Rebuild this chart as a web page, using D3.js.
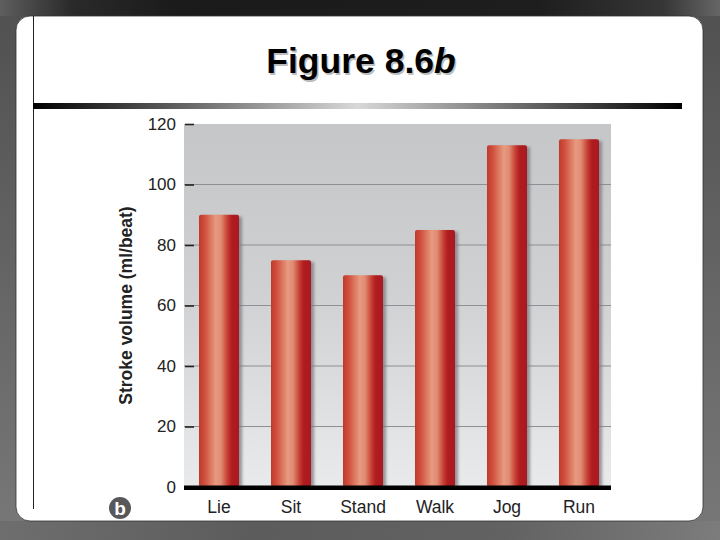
<!DOCTYPE html>
<html>
<head>
<meta charset="utf-8">
<script src="https://cdn.jsdelivr.net/npm/d3@7"></script>
<style>
  html, body { margin: 0; padding: 0; background: #fff; }
  svg { display: block; }
  text { font-family: "Liberation Sans", sans-serif; }
</style>
</head>
<body>
<svg id="chart" width="720" height="540"></svg>
<script>
//DATA
const activities = ['Lie', 'Sit', 'Stand', 'Walk', 'Jog', 'Run'];
const strokeVolume = [90, 75, 70, 85, 113, 115];
const yTicks = [0, 20, 40, 60, 80, 100, 120];

const plot = {left: 184, right: 611, top: 124, bottom: 487};

const svg = d3.select('#chart');
const defs = svg.append('defs');

function addGradient(id, x2, y2, stops) {
  const g = defs.append('linearGradient')
    .attr('id', id)
    .attr('x1', 0).attr('y1', 0)
    .attr('x2', x2).attr('y2', y2);
  stops.forEach(function(s) {
    g.append('stop').attr('offset', s[0]).attr('stop-color', s[1]);
  });
}

addGradient('frameSides', 0, 1, [[0, '#505050'], [1, '#787878']]);
addGradient('frameTop', 1, 0, [[0, '#5e5e5e'], [0.1, '#2a2a2a'], [0.25, '#1a1a1a'], [0.75, '#1e1e1e'], [0.92, '#363636'], [1, '#666']]);
addGradient('frameBottom', 1, 0, [[0, '#6e6e6e'], [0.35, '#5c5c5c'], [0.7, '#626262'], [1, '#7c7c7c']]);
addGradient('rule', 1, 0, [[0, '#000'], [0.5, '#d8d8d8'], [1, '#000']]);
addGradient('plotBg', 0, 1, [[0, '#c5c6c8'], [0.45, '#cfd0d2'], [1, '#e9eaec']]);
addGradient('bar', 1, 0, [
  [0, '#c0392c'], [0.14, '#cf4f3c'], [0.42, '#e89a80'], [0.55, '#e08c74'],
  [0.72, '#c43b30'], [0.82, '#b01c20'], [1, '#a81a1e']
]);

const blur = defs.append('filter').attr('id', 'soft').attr('x', '-20%').attr('width', '140%');
blur.append('feGaussianBlur').attr('stdDeviation', 1.6);

// slide frame
svg.append('rect').attr('width', 720).attr('height', 540).attr('fill', 'url(#frameSides)');
svg.append('rect').attr('width', 720).attr('height', 16).attr('fill', 'url(#frameTop)');
svg.append('rect').attr('y', 521).attr('width', 720).attr('height', 19).attr('fill', 'url(#frameBottom)');
svg.append('rect').attr('x', 16).attr('y', 16).attr('width', 687).attr('height', 505)
  .attr('rx', 14).attr('fill', '#fff').attr('stroke', '#333').attr('stroke-width', 0.8);

svg.append('line').attr('x1', 33.5).attr('x2', 33.5).attr('y1', 16).attr('y2', 509)
  .attr('stroke', '#222').attr('stroke-width', 1);
svg.append('rect').attr('x', 33).attr('y', 103).attr('width', 649).attr('height', 6)
  .attr('fill', 'url(#rule)');

// title
function drawTitle(dx, dy, fill) {
  const t = svg.append('text')
    .attr('x', 361 + dx).attr('y', 73 + dy)
    .attr('text-anchor', 'middle')
    .attr('font-size', 35.5).attr('font-weight', 'bold').attr('fill', fill);
  t.append('tspan').text('Figure 8.6');
  t.append('tspan').attr('font-style', 'italic').text('b');
}
drawTitle(1.5, 1.5, '#bdbdbd');
drawTitle(0, 0, '#000');

// scales
const x = d3.scaleBand()
  .domain(activities)
  .range([183, 615])
  .paddingInner(0.444)
  .paddingOuter(0.222);

const y = d3.scaleLinear()
  .domain([0, 120])
  .range([plot.bottom, plot.top]);

const data = activities.map(function(a, i) { return {name: a, value: strokeVolume[i]}; });

// plot background + gridlines
svg.append('rect')
  .attr('x', plot.left).attr('y', plot.top)
  .attr('width', plot.right - plot.left).attr('height', plot.bottom - plot.top)
  .attr('fill', 'url(#plotBg)');

svg.append('g').selectAll('line')
  .data(yTicks.filter(function(d) { return d > 0 && d < 120; }))
  .enter().append('line')
    .attr('x1', plot.left).attr('x2', plot.right)
    .attr('y1', function(d) { return y(d); })
    .attr('y2', function(d) { return y(d); })
    .attr('stroke', '#8e8f92').attr('stroke-width', 1);

// bars, shadow first
svg.append('g').selectAll('rect')
  .data(data)
  .enter().append('rect')
    .attr('x', function(d) { return x(d.name) + 3; })
    .attr('y', function(d) { return y(d.value) + 2; })
    .attr('width', x.bandwidth())
    .attr('height', function(d) { return y(0) - y(d.value) - 2; })
    .attr('fill', '#77787b').attr('opacity', 0.75)
    .attr('filter', 'url(#soft)');

svg.append('g').selectAll('rect')
  .data(data)
  .enter().append('rect')
    .attr('x', function(d) { return x(d.name); })
    .attr('y', function(d) { return y(d.value); })
    .attr('width', x.bandwidth())
    .attr('height', function(d) { return y(0) - y(d.value); })
    .attr('rx', 2)
    .attr('fill', 'url(#bar)');

// baseline
svg.append('rect')
  .attr('x', plot.left).attr('y', plot.bottom - 1.5)
  .attr('width', plot.right - plot.left).attr('height', 4.5)
  .attr('fill', '#000');

// axes
const yAxis = d3.axisLeft(y).tickValues(yTicks).tickSize(9).tickPadding(9);
const gy = svg.append('g').attr('transform', 'translate(' + (plot.left + 10) + ',0)').call(yAxis);
gy.select('.domain').remove();
gy.selectAll('.tick line').attr('stroke', '#222').attr('stroke-width', 1.6);
gy.selectAll('.tick').filter(function(d) { return d === 0; }).select('line').remove();
gy.selectAll('text').attr('font-size', 17).attr('fill', '#222')
  .style('font-family', '"Liberation Sans", sans-serif');

const xAxis = d3.axisBottom(x).tickSize(0).tickPadding(14);
const gx = svg.append('g').attr('transform', 'translate(0,' + plot.bottom + ')').call(xAxis);
gx.select('.domain').remove();
gx.selectAll('text').attr('font-size', 17.5).attr('fill', '#222')
  .style('font-family', '"Liberation Sans", sans-serif');

// y label
svg.append('text')
  .attr('transform', 'translate(132,305.5) rotate(-90)')
  .attr('text-anchor', 'middle')
  .attr('font-size', 17.5).attr('font-weight', 'bold').attr('fill', '#222')
  .text('Stroke volume (ml/beat)');

// panel badge
svg.append('circle').attr('cx', 120).attr('cy', 508).attr('r', 11).attr('fill', '#58585a');
svg.append('text').attr('x', 120).attr('y', 514.5)
  .attr('text-anchor', 'middle')
  .attr('font-size', 19).attr('font-weight', 'bold').attr('fill', '#fff')
  .text('b');
</script>
</body>
</html>
